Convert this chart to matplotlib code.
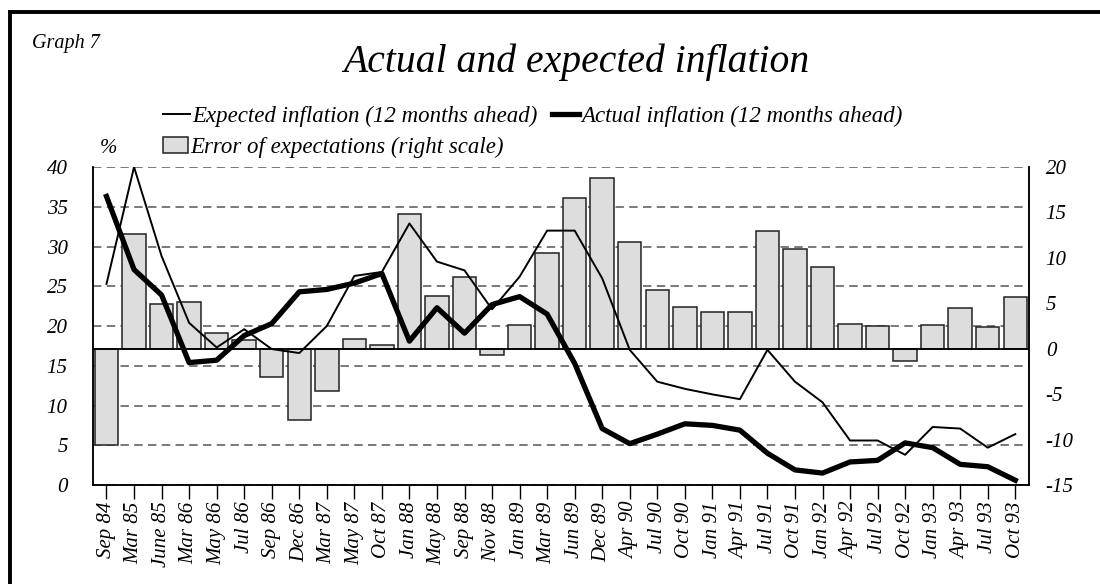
"""
Graph 7 - Actual and expected inflation, with error of expectations (bars, right scale).
"""
import matplotlib
matplotlib.use("Agg")
import matplotlib.pyplot as plt
from matplotlib.lines import Line2D

plt.rcParams["font.family"] = ["Liberation Serif", "DejaVu Serif"]
plt.rcParams["font.style"] = "italic"
plt.rcParams["axes.unicode_minus"] = False

# ── Data ───────────────────────────────────────────────────────────────────
dates = ["Sep 84", "Mar 85", "June 85", "Mar 86", "May 86", "Jul 86", "Sep 86",
         "Dec 86", "Mar 87", "May 87", "Oct 87", "Jan 88", "May 88", "Sep 88",
         "Nov 88", "Jan 89", "Mar 89", "Jun 89", "Dec 89", "Apr 90", "Jul 90",
         "Oct 90", "Jan 91", "Apr 91", "Jul 91", "Oct 91", "Jan 92", "Apr 92",
         "Jul 92", "Oct 92", "Jan 93", "Apr 93", "Jul 93", "Oct 93"]

expected = [25.3, 40.0, 28.8, 20.4, 17.3, 19.6, 17.1, 16.6, 20.0, 26.3, 26.8,
            32.9, 28.1, 27.0, 22.1, 26.2, 32.0, 32.0, 26.0, 17.0, 13.0, 12.1,
            11.4, 10.8, 17.0, 13.0, 10.4, 5.6, 5.6, 3.8, 7.3, 7.1, 4.7, 6.4]

actual = [36.3, 27.1, 23.9, 15.4, 15.7, 18.8, 20.3, 24.3, 24.6, 25.4, 26.6,
          18.1, 22.3, 19.1, 22.7, 23.7, 21.5, 15.3, 7.1, 5.2, 6.4, 7.7,
          7.5, 6.9, 4.0, 1.9, 1.5, 2.9, 3.1, 5.3, 4.7, 2.6, 2.3, 0.6]

error = [-10.6, 12.6, 4.9, 5.1, 1.7, 0.95, -3.1, -7.8, -4.65, 1.06, 0.37,
         14.8, 5.8, 7.95, -0.7, 2.6, 10.55, 16.56, 18.8, 11.7, 6.5, 4.6,
         4.0, 4.0, 13.0, 11.0, 9.0, 2.7, 2.5, -1.3, 2.6, 4.5, 2.4, 5.7]

left_ticks = [0, 5, 10, 15, 20, 25, 30, 35, 40]
right_ticks = [-15, -10, -5, 0, 5, 10, 15, 20]

x = list(range(len(dates)))

# ── Figure ─────────────────────────────────────────────────────────────────
fig = plt.figure(figsize=(11, 5.84), dpi=100)
pos = [0.0843, 0.1695, 0.8512, 0.5445]

# base axes: left scale, dashed grid, category ticks
ax = fig.add_axes(pos)
ax.set_xlim(-0.5, len(dates) - 0.5)
ax.set_ylim(0, 40)
ax.set_yticks(left_ticks)
ax.set_yticklabels([str(t) for t in left_ticks], fontsize=15)
ax.tick_params(axis="y", length=0, pad=18)
ax.set_xticks(x)
ax.set_xticklabels(dates, rotation=90, fontsize=15)
ax.tick_params(axis="x", length=10, width=1, pad=2, direction="out")
ax.grid(True, axis="y", linestyle=(0, (5.5, 3.5)), color="#555555", linewidth=1.1)
ax.spines["top"].set_visible(False)

# bars on the right scale
axb = ax.twinx()
axb.set_ylim(-15, 20)
axb.set_yticks(right_ticks)
axb.set_yticklabels([str(t) for t in right_ticks], fontsize=15)
axb.tick_params(axis="y", length=0, pad=12)
bars = axb.bar(x, error, width=0.85, color="#dddddd", edgecolor="#222222",
               linewidth=1.1, label="Error of expectations (right scale)")
axb.axhline(0, color="black", linewidth=1.3)
axb.spines["top"].set_visible(False)

# lines on top, left scale
axl = ax.twinx()
axl.set_ylim(0, 40)
axl.set_yticks([])
for s in axl.spines.values():
    s.set_visible(False)
l_exp, = axl.plot(x, expected, color="black", linewidth=1.4,
                  label="Expected inflation (12 months ahead)")
l_act, = axl.plot(x, actual, color="black", linewidth=3.8,
                  label="Actual inflation (12 months ahead)")

for a in (ax, axb):
    for s in ("left", "right", "bottom"):
        a.spines[s].set_linewidth(1.1)

# ── Texts and legends ──────────────────────────────────────────────────────
fig.text(0.029, 0.926, "Graph 7", fontsize=14.5, ha="left", va="center")
fig.text(0.524, 0.893, "Actual and expected inflation", fontsize=28.5,
         ha="center", va="center")
fig.text(0.091, 0.745, "%", fontsize=15, ha="left", va="center")

leg1 = fig.legend([l_exp, l_act], [l_exp.get_label(), l_act.get_label()],
                  loc="center left", bbox_to_anchor=(0.148, 0.801), ncol=2,
                  frameon=False, fontsize=16.5, handlelength=1.2,
                  handletextpad=0.1, columnspacing=0.6, borderpad=0,
                  borderaxespad=0)
leg2 = fig.legend([bars], [bars.get_label()], loc="center left",
                  bbox_to_anchor=(0.148, 0.747), frameon=False, fontsize=16.5,
                  handlelength=1.1, handleheight=0.7, handletextpad=0.1,
                  borderpad=0, borderaxespad=0)

# outer frame (top and left edges of the page box)
fig.add_artist(Line2D([0.009, 1.0], [0.979, 0.979], transform=fig.transFigure,
                      color="black", linewidth=2.8))
fig.add_artist(Line2D([0.0095, 0.0095], [0.0, 0.979], transform=fig.transFigure,
                      color="black", linewidth=2.8))

plt.savefig("out.png", dpi=100)
